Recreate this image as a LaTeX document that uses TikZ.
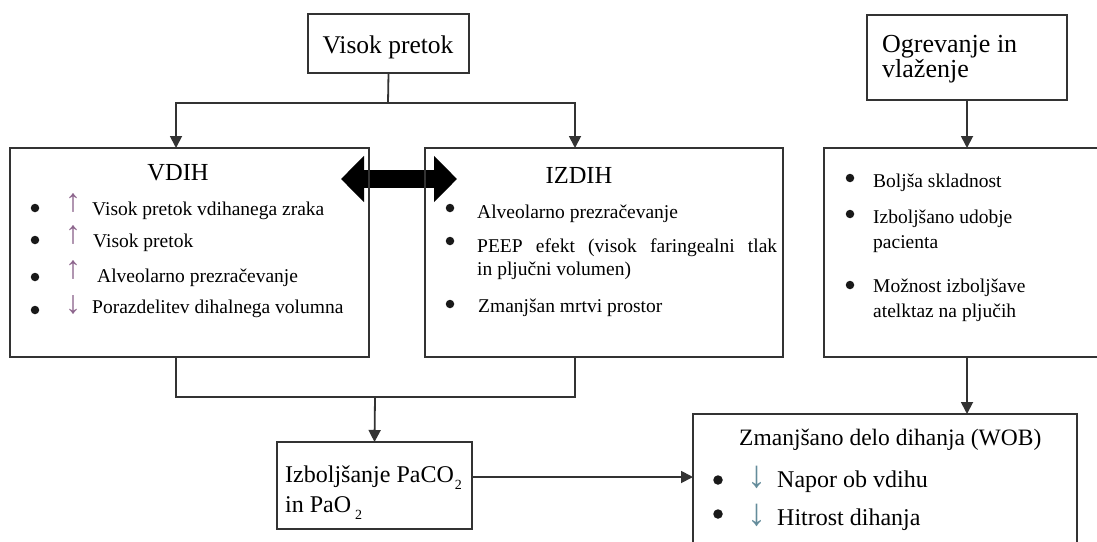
\documentclass[tikz,border=0pt]{standalone}
\usepackage{fontspec}
\setmainfont{Liberation Serif}
\usetikzlibrary{arrows.meta}
\definecolor{ln}{HTML}{333333}
\definecolor{upc}{RGB}{140,100,140}
\definecolor{dnc}{RGB}{100,140,155}
\begin{document}
\begin{tikzpicture}[x=1pt,y=-1pt,
  box/.style={draw=ln,line width=1.8pt,inner sep=0pt,outer sep=0pt,rectangle},
  conn/.style={draw=ln,line width=1.8pt},
  arr/.style={conn,-{Triangle[length=12pt,width=12pt]}},
  head/.style={anchor=base,font=\fontsize{24.5}{28}\selectfont,inner sep=0pt},
  item/.style={anchor=base west,font=\fontsize{19.5}{24}\selectfont,inner sep=0pt},
  dot/.style={circle,fill=black!90,inner sep=0pt,minimum size=8.5pt},
  bigdot/.style={circle,fill=black!90,inner sep=0pt,minimum size=9.5pt},
  upa/.style={anchor=base,font=\fontsize{32}{32}\selectfont,inner sep=0pt,text=upc,text height=20pt,text depth=0pt},
  big/.style={anchor=base west,font=\fontsize{24}{30}\selectfont,inner sep=0pt},
  dna/.style={anchor=base,font=\fontsize{38}{40}\selectfont,inner sep=0pt,text=dnc,text height=23pt,text depth=0pt},
  dbl/.style={line width=18pt,{Triangle[length=23pt,width=45pt]}-{Triangle[length=23pt,width=45pt]}}
]
\useasboundingbox (0,0) rectangle (1097,541);

% double arrow between VDIH and IZDIH
\coordinate (dl) at (341,179);
\coordinate (dr) at (457,179);
\draw[dbl] (dl) -- (dr);

% boxes
\node[box,minimum width=161pt,minimum height=59pt] (vp) at (388.5,43.5) {};
\node[box,minimum width=359pt,minimum height=209pt] (vdih) at (189.5,252.5) {};
\node[box,minimum width=358pt,minimum height=209pt] (izdih) at (604,252.5) {};
\node[box,minimum width=200pt,minimum height=85pt] (og) at (967,57.5) {};
\node[box,minimum width=290pt,minimum height=209pt] (rb) at (969,252.5) {};
\node[box,minimum width=195pt,minimum height=87pt] (iz) at (374.5,485.5) {};
\node[box,minimum width=384pt,minimum height=160pt] (wob) at (885,494) {};

% connectors
\coordinate (split) at (388,103);
\draw[conn] (vp.south) -- (split);
\draw[arr] (split) -| ([xshift=-13.5pt]vdih.north);
\draw[arr] (split) -| ([xshift=-29pt]izdih.north);
\coordinate (j) at (375,397);
\draw[conn] ([xshift=-13.5pt]vdih.south) |- (j) -| ([xshift=-29pt]izdih.south);
\draw[arr] (j) -- (iz.north);
\draw[arr] ([yshift=8.5pt]iz.east) -- ([yshift=8.5pt]iz.east -| wob.west);
\draw[arr] (og.south) -- (og.south |- rb.north);
\draw[arr] (og.south |- rb.south) -- (og.south |- wob.north);

% texts: top
\node[head,font=\fontsize{25.5}{28}\selectfont] (tvp) at (388,53) {Visok pretok};
\node[anchor=base west,inner sep=0pt,font=\fontsize{26}{30}\selectfont] (tog1) at (882,52) {Ogrevanje in};
\node[anchor=base west,inner sep=0pt,font=\fontsize{26}{30}\selectfont] (tog2) at (882,77) {vlaženje};

% VDIH
\node[head] (tvdih) at (178,180) {VDIH};
\node[dot] (vb1) at (35,208) {};
\node[dot] (vb2) at (35,240) {};
\node[dot] (vb3) at (35,277) {};
\node[dot] (vb4) at (35,310) {};
\node[upa] (va1) at (73,211) {↑};
\node[upa] (va2) at (73,243) {↑};
\node[upa] (va3) at (73,278) {↑};
\node[upa] (va4) at (73,313) {↓};
\node[item] (vt1) at (92,215) {Visok pretok vdihanega zraka};
\node[item] (vt2) at (93,247) {Visok pretok};
\node[item] (vt3) at (97,282) {Alveolarno prezračevanje};
\node[item] (vt4) at (92,313) {Porazdelitev dihalnega volumna};

% IZDIH
\node[head] (tizdih) at (579,183) {IZDIH};
\node[dot] (ib1) at (450,208) {};
\node[dot] (ib2) at (450,241) {};
\node[dot] (ib3) at (450,304) {};
\node[item] (it1) at (477,218) {Alveolarno prezračevanje};
\node[item] (it2) at (477,252) {\makebox[300pt][s]{PEEP efekt (visok faringealni tlak}};
\node[item] (it2b) at (477,275) {in pljučni volumen)};
\node[item] (it3) at (478,312) {Zmanjšan mrtvi prostor};

% right box
\node[dot] (rb1) at (850,178) {};
\node[dot] (rb2) at (850,214) {};
\node[dot] (rb3) at (850,285) {};
\node[item] (rt1) at (873,187) {Boljša skladnost};
\node[item] (rt2) at (873,223) {Izboljšano udobje};
\node[item] (rt2b) at (873,248) {pacienta};
\node[item] (rt3) at (873,292) {Možnost izboljšave};
\node[item] (rt3b) at (873,317) {atelktaz na pljučih};

% Izboljsanje
\node[big] (iz1) at (285,482) {Izboljšanje PaCO\kern1pt\raisebox{-7pt}{\fontsize{14}{14}\selectfont 2}};
\node[big] (iz2) at (285,512) {in PaO\kern4pt\raisebox{-7pt}{\fontsize{14}{14}\selectfont 2}};

% WOB
\node[anchor=base west,inner sep=0pt,font=\fontsize{23.5}{28}\selectfont] (twob) at (739,445) {Zmanjšano delo dihanja (WOB)};
\node[bigdot] (wb1) at (718,480) {};
\node[bigdot] (wb2) at (718,514) {};
\node[dna] (wa1) at (757,487) {↓};
\node[dna] (wa2) at (757,525) {↓};
\node[big] (wt1) at (777,487) {Napor ob vdihu};
\node[big] (wt2) at (777,525) {Hitrost dihanja};
\end{tikzpicture}
\end{document}
